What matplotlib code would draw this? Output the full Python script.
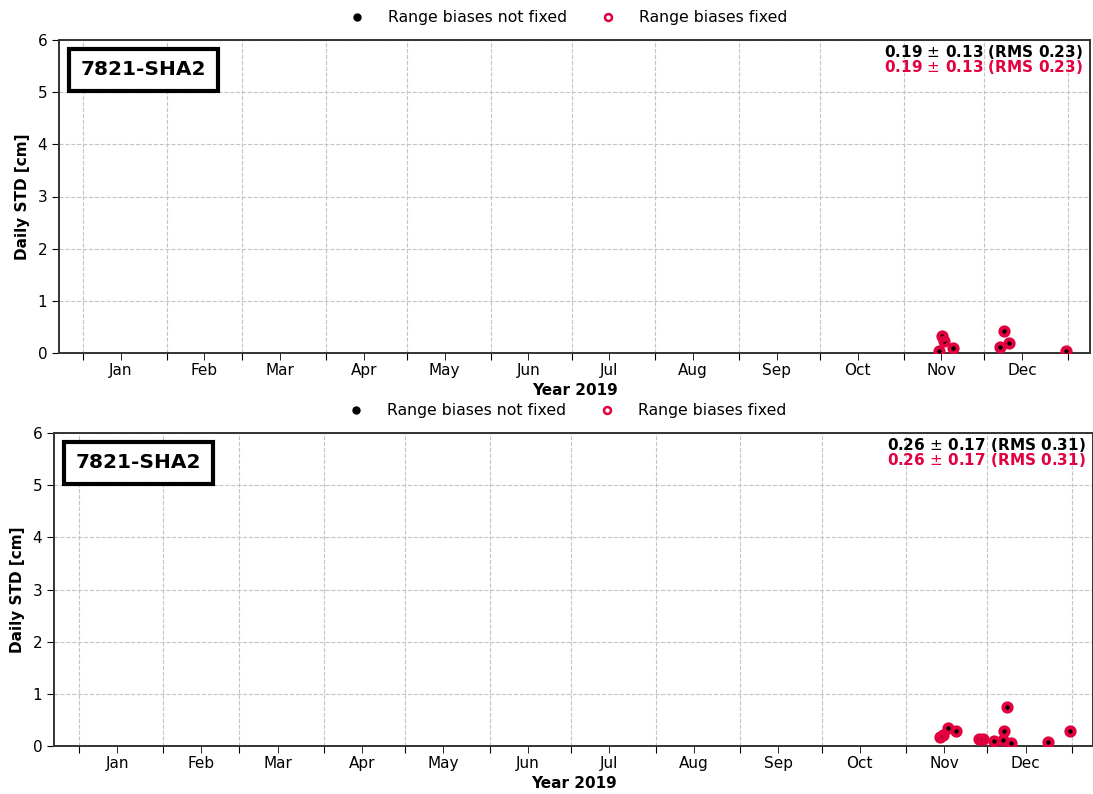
import matplotlib
matplotlib.use("Agg")
import matplotlib.pyplot as plt
import matplotlib.dates as mdates
from matplotlib.lines import Line2D
import numpy as np

STATION = "7821-SHA2"
YEAR = 2019
RED = "#e3003f"

# daily STD of the range residuals [cm]
TOP_DATES = ["2019-11-14T07", "2019-11-15T02", "2019-11-16T00", "2019-11-19T05",
             "2019-12-06T22", "2019-12-08T10", "2019-12-10T00", "2019-12-31T02"]
TOP_STD = [0.03, 0.33, 0.23, 0.09, 0.12, 0.43, 0.19, 0.03]
TOP_STATS = "0.19 $\\pm$ 0.13 (RMS 0.23)"

BOT_DATES = ["2019-11-13T12", "2019-11-14T19", "2019-11-16T10", "2019-11-19T07",
             "2019-11-27T22", "2019-11-29T05", "2019-12-03T14", "2019-12-06T17",
             "2019-12-07T00", "2019-12-08T00", "2019-12-09T12", "2019-12-23T02",
             "2019-12-31T05"]
BOT_STD = [0.17, 0.21, 0.35, 0.29, 0.13, 0.13, 0.10, 0.12, 0.29, 0.75,
           0.05, 0.08, 0.29]
BOT_STATS = "0.26 $\\pm$ 0.17 (RMS 0.31)"

W, H = 1093, 794
fig = plt.figure(figsize=(W / 100, H / 100), dpi=100)


def panel(rect, dates, std, stats, xlim_days):
    ax = fig.add_axes(rect)
    d = np.array(dates, dtype="datetime64[h]").astype("datetime64[m]").astype(object)
    jan1 = np.datetime64(f"{YEAR}-01-01T00:00")
    lo = (jan1 + np.timedelta64(int(xlim_days[0] * 1440), "m")).astype(object)
    hi = (jan1 + np.timedelta64(int(xlim_days[1] * 1440), "m")).astype(object)

    # not fixed and fixed series hold the same values here
    ax.plot(d, std, "o", color="black", ms=3.2, zorder=3)
    ax.plot(d, std, "o", mfc="none", mec=RED, ms=6, mew=2.8, zorder=4)

    ax.set_xlim(lo, hi)
    ax.set_ylim(0, 6)
    ax.set_yticks(range(7))
    ax.xaxis.set_major_locator(mdates.MonthLocator())
    ax.xaxis.set_major_formatter(plt.NullFormatter())
    ax.xaxis.set_minor_locator(mdates.MonthLocator(bymonthday=15))
    ax.xaxis.set_minor_formatter(mdates.DateFormatter("%b"))
    ax.tick_params(axis="x", which="both", length=5, labelsize=11, pad=2)
    ax.tick_params(axis="y", length=5, labelsize=11)
    ax.grid(True, which="major", color="#c4c4c4", linestyle="--", linewidth=0.8)
    for s in ax.spines.values():
        s.set_color("#333333")
        s.set_linewidth(1.4)

    ax.set_ylabel("Daily STD [cm]", fontsize=11, fontweight="bold", labelpad=5)
    ax.set_xlabel(f"Year {YEAR}", fontsize=11, fontweight="bold", labelpad=4)

    ax.text(0.021, 0.935, STATION, transform=ax.transAxes, ha="left", va="top",
            fontsize=14.5, fontweight="bold",
            bbox=dict(boxstyle="square,pad=0.58", fc="white", ec="black", lw=3))
    ax.text(0.993, 0.992, stats, transform=ax.transAxes, ha="right", va="top",
            fontsize=11, fontweight="bold", color="black")
    ax.text(0.993, 0.941, stats, transform=ax.transAxes, ha="right", va="top",
            fontsize=11, fontweight="bold", color=RED)

    handles = [
        Line2D([], [], ls="none", marker="o", color="black", ms=5),
        Line2D([], [], ls="none", marker="o", mfc="none", mec=RED, ms=5, mew=1.8),
    ]
    ax.legend(handles, ["Range biases not fixed", "Range biases fixed"],
              loc="lower center", bbox_to_anchor=(0.49, 1.0), ncol=2,
              frameon=False, fontsize=11.3, columnspacing=1.6, handletextpad=1.0,
              borderaxespad=0.55)
    return ax


panel([59 / W, 1 - 353 / H, (1090 - 59) / W, 313 / H],
      TOP_DATES, TOP_STD, TOP_STATS, (-8.9, 373.1))
panel([54 / W, 1 - 746 / H, (1093 - 54) / W, 313 / H],
      BOT_DATES, BOT_STD, BOT_STATS, (-9.2, 372.8))

fig.savefig("out.png", dpi=100)
